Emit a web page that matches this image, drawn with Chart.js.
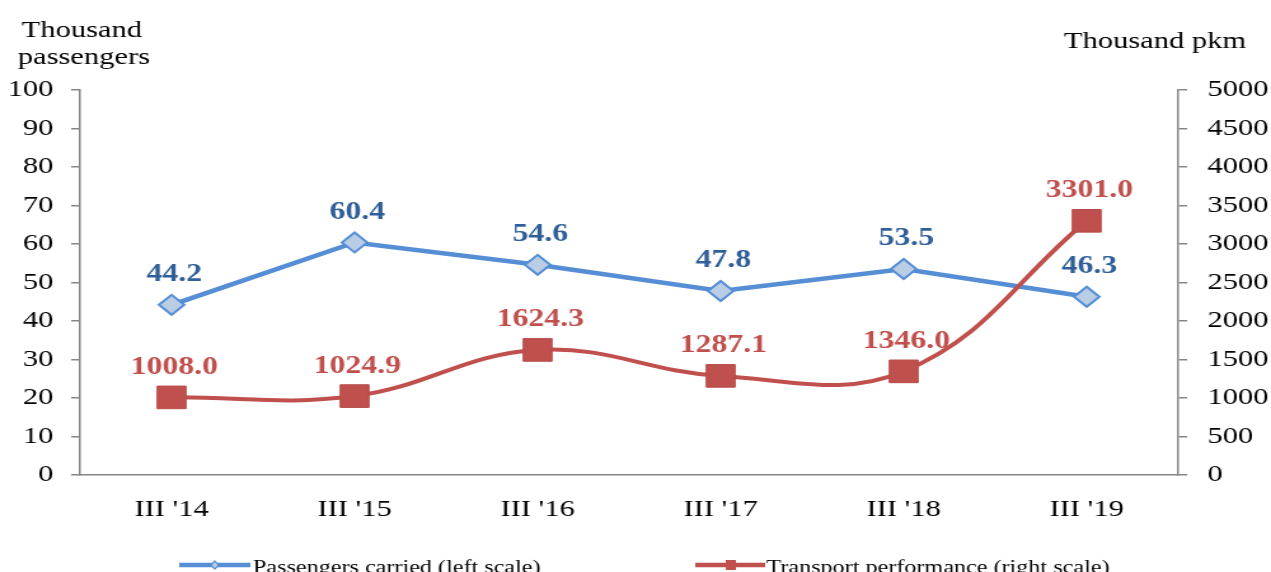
<!DOCTYPE html>
<html>
<head>
<meta charset="utf-8">
<script src="https://cdn.jsdelivr.net/npm/chart.js@4/dist/chart.umd.min.js"></script>
<style>
    body { margin: 0; overflow: hidden; background: #fff; }
    #wrap { width: 1000px; height: 600px; transform: scaleX(1.271); transform-origin: 0 0; }
</style>
</head>
<body>
<div id="wrap"><canvas id="line-chartPasajeros" width="1000" height="600"></canvas></div>
<script>
var categorias = ["III '14", "III '15", "III '16", "III '17", "III '18", "III '19"];
var pasajeros = [44.2, 60.4, 54.6, 47.8, 53.5, 46.3];
var rendimiento = [1008.0, 1024.9, 1624.3, 1287.1, 1346.0, 3301.0];
var tituloIzq = ["Thousand", "passengers"];
var tituloDer = "Thousand pkm";
var leyendaPasajeros = "Passengers carried (left scale)";
var leyendaRendimiento = "Transport performance (right scale)";

var fuente = "'Liberation Serif', 'Times New Roman', serif";
var azul = "#558ed5";
var rojo = "#c0504d";
var gris = "#868686";

// etiquetas de valores encima de los puntos
var etiquetasPlugin = {
    id: 'etiquetas',
    afterDatasetsDraw: function(chart) {
        var ctx = chart.ctx;
        ctx.save();
        ctx.font = "bold 25px " + fuente;
        ctx.textAlign = "center";
        ctx.textBaseline = "middle";
        chart.data.datasets.forEach(function(ds, i) {
            var meta = chart.getDatasetMeta(i);
            ctx.fillStyle = ds.labelColor;
            meta.data.forEach(function(p, j) {
                ctx.fillText(ds.data[j].toFixed(1), p.x + 2, p.y - 30);
            });
        });
        ctx.restore();
    }
};

// titulos de ejes y leyenda
var textosPlugin = {
    id: 'textos',
    afterDraw: function(chart) {
        var ctx = chart.ctx;
        ctx.save();
        ctx.fillStyle = "#000";
        ctx.font = "24px " + fuente;
        ctx.textAlign = "left";
        ctx.textBaseline = "alphabetic";
        ctx.fillText(tituloIzq[0], 17, 37);
        ctx.fillText(tituloIzq[1], 14, 64);
        ctx.fillText(tituloDer, 837, 48);

        var y = 565;
        // pasajeros
        ctx.strokeStyle = azul;
        ctx.lineWidth = 4.5;
        ctx.beginPath(); ctx.moveTo(141, y); ctx.lineTo(197, y); ctx.stroke();
        ctx.fillStyle = "#b9cde5";
        ctx.lineWidth = 1.2;
        ctx.beginPath();
        ctx.moveTo(169, y - 4); ctx.lineTo(172, y); ctx.lineTo(169, y + 4); ctx.lineTo(166, y);
        ctx.closePath(); ctx.fill(); ctx.stroke();
        // rendimiento
        ctx.strokeStyle = rojo;
        ctx.lineWidth = 4.5;
        ctx.beginPath(); ctx.moveTo(547, y); ctx.lineTo(602, y); ctx.stroke();
        ctx.fillStyle = rojo;
        ctx.fillRect(571, y - 5, 8, 10);

        ctx.fillStyle = "#000";
        ctx.font = "19px " + fuente;
        ctx.fillText(leyendaPasajeros, 199, 573);
        ctx.fillText(leyendaRendimiento, 603, 573);
        ctx.restore();
    }
};

new Chart(document.getElementById("line-chartPasajeros"), {
    type: 'line',
    data: {
        labels: categorias,
        datasets: [{
            label: leyendaRendimiento,
            data: rendimiento,
            yAxisID: 'yDer',
            borderColor: rojo,
            backgroundColor: rojo,
            labelColor: rojo,
            borderWidth: 4,
            tension: 0.4,
            pointStyle: 'rect',
            pointRadius: 16,
            pointBorderWidth: 1,
            pointBorderColor: "#b84a47",
            pointBackgroundColor: rojo,
            order: 0
        }, {
            label: leyendaPasajeros,
            data: pasajeros,
            yAxisID: 'yIzq',
            borderColor: azul,
            backgroundColor: "#b9cde5",
            labelColor: "#305f98",
            borderWidth: 4.5,
            tension: 0,
            pointStyle: 'rectRot',
            pointRadius: 10,
            pointBorderWidth: 2,
            pointBorderColor: azul,
            pointBackgroundColor: "#b9cde5",
            order: 1
        }]
    },
    options: {
        responsive: false,
        animation: false,
        layout: { padding: { top: 90, left: 0, right: 0, bottom: 0 } },
        plugins: {
            legend: { display: false },
            tooltip: { enabled: false }
        },
        scales: {
            x: {
                offset: true,
                grid: { display: false, drawTicks: false },
                border: { display: true, color: gris, width: 1.5 },
                ticks: { color: "#000", padding: 20, font: { family: fuente, size: 24 } },
                afterFit: function(scale) { scale.height = 125; }
            },
            yIzq: {
                position: 'left',
                min: 0,
                max: 100,
                ticks: { stepSize: 10, color: "#000", padding: 14, font: { family: fuente, size: 24 } },
                grid: { drawOnChartArea: false, color: gris, tickLength: 7, lineWidth: 1.5 },
                border: { color: gris, width: 1.5 },
                afterFit: function(scale) { scale.width = 63; }
            },
            yDer: {
                position: 'right',
                min: 0,
                max: 5000,
                ticks: {
                    stepSize: 500, color: "#000", padding: 16, font: { family: fuente, size: 24 },
                    callback: function(value) { return String(value); }
                },
                grid: { drawOnChartArea: false, color: gris, tickLength: 7, lineWidth: 1.5 },
                border: { color: gris, width: 1.5 },
                afterFit: function(scale) { scale.width = 73; }
            }
        }
    },
    plugins: [etiquetasPlugin, textosPlugin]
});
</script>
</body>
</html>
